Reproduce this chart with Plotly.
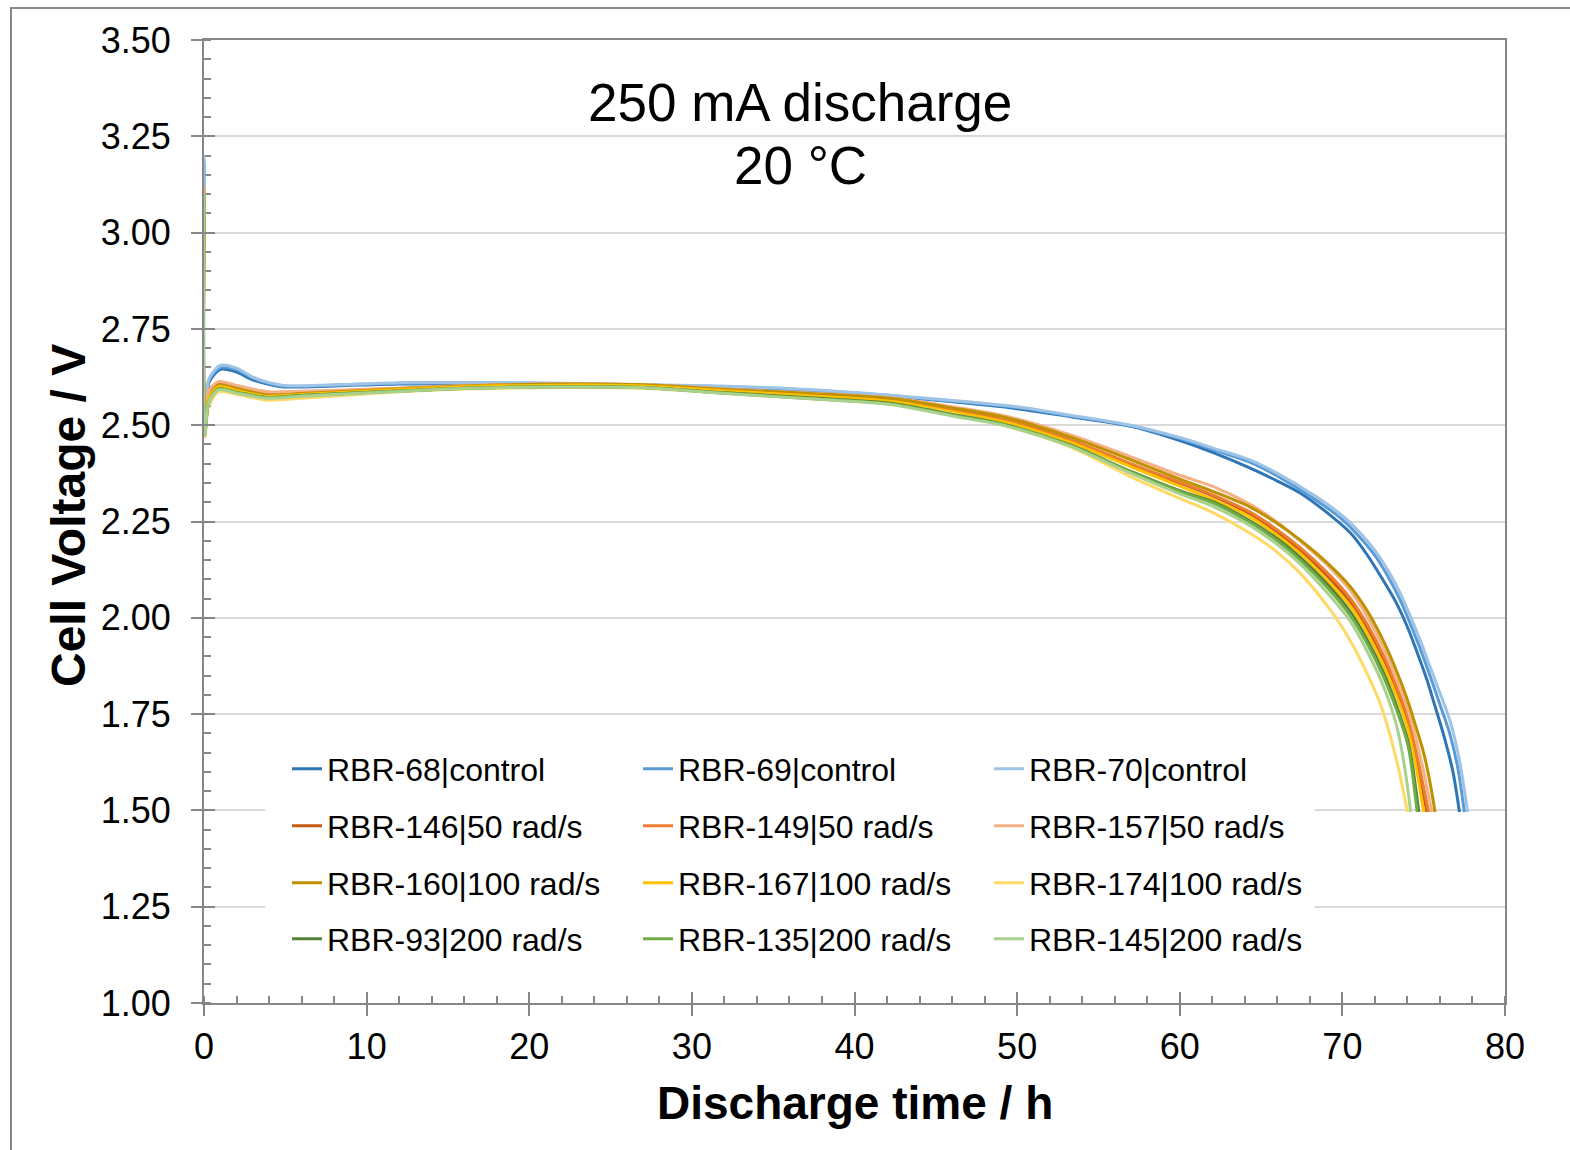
import plotly.graph_objects as go

# ---------------- data ----------------
series_names = [
    "RBR-68|control", "RBR-69|control", "RBR-70|control",
    "RBR-146|50 rad/s", "RBR-149|50 rad/s", "RBR-157|50 rad/s",
    "RBR-160|100 rad/s", "RBR-167|100 rad/s", "RBR-174|100 rad/s",
    "RBR-93|200 rad/s", "RBR-135|200 rad/s", "RBR-145|200 rad/s",
]
series_colors = [
    "#2e75b6", "#5b9bd5", "#9dc3e6",
    "#c55a11", "#ed7d31", "#f4b183",
    "#bf9000", "#ffc000", "#ffd966",
    "#548235", "#70ad47", "#a9d18e",
]

# discharge time (h) and cell voltage (V)
t_rbr68 = [0, 0.05, 0.3, 1.0, 2.0, 3.0, 4.8, 8, 12, 20, 30, 35, 41.6, 45, 50, 53.3, 57, 60, 62.1, 64.3,
           66, 67.4, 69, 70.5, 71.5, 72.5, 73.3, 74.0, 74.6, 75.2, 75.7, 76.2, 76.8, 77.2]
v_rbr68 = [3.18, 2.50, 2.61, 2.645, 2.638, 2.618, 2.600, 2.602, 2.607, 2.607, 2.600, 2.595, 2.578, 2.565, 2.543,
           2.522, 2.497, 2.460, 2.428, 2.389, 2.355, 2.324, 2.275, 2.220, 2.165, 2.098, 2.040, 1.976, 1.910,
           1.839, 1.770, 1.700, 1.600, 1.496]

t_rbr69 = [0, 0.05, 0.3, 1.0, 2.0, 3.0, 4.8, 8, 12, 20, 30, 35, 41.6, 45, 50, 53.3, 57, 60, 62.1, 64.3,
           66, 68.4, 70, 71.1, 72.0, 72.9, 73.6, 74.2, 74.8, 75.4, 76.0, 76.6, 77.1, 77.5]
v_rbr69 = [3.19, 2.50, 2.615, 2.650, 2.644, 2.622, 2.602, 2.604, 2.609, 2.609, 2.602, 2.596, 2.579, 2.566, 2.546,
           2.524, 2.498, 2.465, 2.436, 2.404, 2.368, 2.305, 2.255, 2.208, 2.162, 2.100, 2.042, 1.982, 1.918,
           1.848, 1.775, 1.700, 1.610, 1.496]

t_rbr70 = [0, 0.05, 0.3, 1.0, 2.0, 3.0, 4.8, 8, 12, 20, 30, 35, 41.6, 45, 50, 53.3, 57, 60, 62.1, 64.3,
           66, 68.4, 70, 71.1, 72.0, 72.9, 73.6, 74.2, 74.8, 75.4, 76.0, 76.6, 77.2, 77.7]
v_rbr70 = [3.20, 2.50, 2.62, 2.655, 2.648, 2.625, 2.604, 2.605, 2.610, 2.610, 2.603, 2.597, 2.580, 2.568, 2.548,
           2.526, 2.500, 2.468, 2.440, 2.410, 2.375, 2.314, 2.265, 2.220, 2.175, 2.116, 2.060, 2.002, 1.940,
           1.872, 1.805, 1.735, 1.630, 1.496]

# common time grid for the treated cells (before each series' own tail)
t_grid = [0, 0.05, 0.3, 0.9, 2, 3.9, 6, 11.7, 16, 21.9, 27, 32.1, 37, 42.2, 46, 49.4, 53.3, 57, 60, 62.1,
          64.3, 66, 67.4, 69, 70.5, 71.5, 72.5, 73.3, 74.0]

t_tail_rbr146 = [74.6, 75.2]
v_rbr146 = [3.11, 2.49, 2.58, 2.608, 2.598, 2.582, 2.585, 2.594, 2.601, 2.605, 2.603, 2.591, 2.580, 2.565, 2.540,
            2.512, 2.460, 2.398, 2.350, 2.315, 2.270, 2.222, 2.175, 2.112, 2.040, 1.975, 1.895, 1.815, 1.735,
            1.625, 1.496]

t_tail_rbr149 = [74.6, 75.3]
v_rbr149 = [3.11, 2.49, 2.58, 2.610, 2.600, 2.584, 2.586, 2.595, 2.602, 2.606, 2.604, 2.592, 2.581, 2.567, 2.541,
            2.514, 2.462, 2.400, 2.352, 2.318, 2.275, 2.228, 2.182, 2.120, 2.050, 1.985, 1.905, 1.825, 1.745,
            1.640, 1.496]

t_tail_rbr157 = [74.5, 75.0, 75.5]
v_rbr157 = [3.12, 2.49, 2.59, 2.613, 2.603, 2.587, 2.588, 2.596, 2.603, 2.607, 2.605, 2.594, 2.584, 2.571, 2.548,
            2.523, 2.475, 2.418, 2.370, 2.340, 2.295, 2.248, 2.200, 2.140, 2.070, 2.005, 1.925, 1.845, 1.765,
            1.690, 1.600, 1.496]

t_tail_rbr160 = [74.5, 75.0, 75.4, 75.7]
v_rbr160 = [3.10, 2.48, 2.57, 2.604, 2.595, 2.578, 2.582, 2.594, 2.602, 2.607, 2.605, 2.593, 2.583, 2.570, 2.545,
            2.519, 2.469, 2.410, 2.360, 2.327, 2.288, 2.245, 2.202, 2.145, 2.080, 2.020, 1.942, 1.865, 1.787,
            1.720, 1.649, 1.570, 1.496]

t_tail_rbr167 = [74.5, 75.0]
v_rbr167 = [3.10, 2.48, 2.57, 2.600, 2.590, 2.575, 2.580, 2.592, 2.600, 2.604, 2.602, 2.589, 2.577, 2.562, 2.535,
            2.507, 2.455, 2.392, 2.342, 2.306, 2.262, 2.214, 2.167, 2.100, 2.030, 1.962, 1.880, 1.800, 1.715,
            1.620, 1.496]

t_rbr174 = [0, 0.05, 0.3, 0.9, 2, 3.9, 6, 11.7, 16, 21.9, 27, 32.1, 37, 42.2, 46, 49.4, 53.3, 57, 60, 62.1,
            64.3, 66, 67.4, 69.4, 70.5, 71.5, 72.3, 72.9, 73.5, 74.0]
v_rbr174 = [3.10, 2.47, 2.55, 2.587, 2.580, 2.565, 2.570, 2.586, 2.594, 2.598, 2.596, 2.583, 2.570, 2.555, 2.530,
            2.497, 2.443, 2.366, 2.310, 2.272, 2.220, 2.170, 2.116, 2.012, 1.940, 1.857, 1.780, 1.700, 1.600,
            1.496]

t_tail_rbr93 = [74.3, 74.7]
v_rbr93 = [3.10, 2.475, 2.56, 2.594, 2.585, 2.572, 2.577, 2.588, 2.596, 2.600, 2.598, 2.584, 2.572, 2.557, 2.528,
           2.500, 2.448, 2.380, 2.330, 2.300, 2.252, 2.205, 2.157, 2.090, 2.015, 1.945, 1.860, 1.775, 1.685,
           1.620, 1.496]

t_tail_rbr135 = [74.2, 74.6]
v_rbr135 = [3.10, 2.475, 2.56, 2.594, 2.585, 2.572, 2.577, 2.588, 2.596, 2.600, 2.598, 2.583, 2.570, 2.555, 2.526,
            2.499, 2.447, 2.378, 2.328, 2.297, 2.248, 2.200, 2.150, 2.082, 2.005, 1.935, 1.850, 1.765, 1.675,
            1.630, 1.496]

t_rbr145 = [0, 0.05, 0.3, 0.9, 2, 3.9, 6, 11.7, 16, 21.9, 27, 32.1, 37, 42.2, 46, 49.4, 53.3, 57, 60, 62.1,
            64.3, 66, 67.4, 69, 70.5, 71.5, 72.5, 73.3, 73.8, 74.2]
v_rbr145 = [3.10, 2.475, 2.56, 2.592, 2.583, 2.570, 2.575, 2.587, 2.595, 2.599, 2.597, 2.582, 2.569, 2.554, 2.524,
            2.497, 2.445, 2.375, 2.322, 2.288, 2.240, 2.190, 2.140, 2.068, 1.990, 1.915, 1.825, 1.725, 1.620,
            1.496]

series_t = [
    t_rbr68, t_rbr69, t_rbr70,
    t_grid + t_tail_rbr146, t_grid + t_tail_rbr149, t_grid + t_tail_rbr157,
    t_grid + t_tail_rbr160, t_grid + t_tail_rbr167, t_rbr174,
    t_grid + t_tail_rbr93, t_grid + t_tail_rbr135, t_rbr145,
]
series_v = [
    v_rbr68, v_rbr69, v_rbr70,
    v_rbr146, v_rbr149, v_rbr157,
    v_rbr160, v_rbr167, v_rbr174,
    v_rbr93, v_rbr135, v_rbr145,
]

x_ticks = [0, 10, 20, 30, 40, 50, 60, 70, 80]
y_ticks = [1.00, 1.25, 1.50, 1.75, 2.00, 2.25, 2.50, 2.75, 3.00, 3.25, 3.50]

# ---------------- figure ----------------
FONT = "Liberation Sans, Arial, sans-serif"
AX = "#868686"
W, H = 1570, 1150
ML, MR, MT, MB = 204, 65, 40, 147
PW, PH = W - ML - MR, H - MT - MB


def px_x(p):
    return (p - ML) / PW


def px_y(p):
    return 1 - (p - MT) / PH


legend_ids = ["legend", "legend2", "legend3", "legend4"]
row_py = [769, 826, 883, 939]

fig = go.Figure()
for i, name in enumerate(series_names):
    fig.add_trace(go.Scatter(
        x=series_t[i], y=series_v[i], mode="lines", name=name,
        line=dict(color=series_colors[i], width=3, shape="spline", smoothing=0.8),
        legend=legend_ids[i // 3],
    ))

# helper trace for the inner half of major ticks
fig.add_trace(go.Scatter(x=[None], y=[None], xaxis="x2", yaxis="y2", showlegend=False, hoverinfo="skip"))

legend_common = dict(
    orientation="h", xanchor="left", yanchor="middle",
    bgcolor="rgba(0,0,0,0)", font=dict(size=32, family=FONT, color="black"),
    entrywidth=306, entrywidthmode="pixels", traceorder="normal",
)
layout_legends = {}
for k, lid in enumerate(legend_ids):
    layout_legends[lid] = dict(legend_common, x=px_x(287), y=px_y(row_py[k]))

fig.update_layout(
    width=W, height=H,
    margin=dict(l=ML, r=MR, t=MT, b=MB, pad=0),
    paper_bgcolor="white", plot_bgcolor="white",
    font=dict(family=FONT, color="black"),
    showlegend=True,
    xaxis=dict(
        range=[0, 80], tickvals=x_ticks, ticktext=[str(v) for v in x_ticks],
        showgrid=False, zeroline=False,
        showline=True, linecolor=AX, linewidth=2, mirror=True,
        ticks="outside", ticklen=11, tickwidth=2, tickcolor=AX,
        minor=dict(dtick=2, tick0=0, ticks="inside", ticklen=7, tickwidth=2, tickcolor=AX, showgrid=False),
        tickfont=dict(size=36, family=FONT, color="black"),
        layer="below traces",
    ),
    yaxis=dict(
        range=[1, 3.5], tickvals=y_ticks, ticktext=[f"{v:.2f}" for v in y_ticks],
        showgrid=True, gridcolor="#d9d9d9", gridwidth=2, zeroline=False,
        showline=True, linecolor=AX, linewidth=2, mirror=True,
        ticks="outside", ticklen=11, tickwidth=2, tickcolor=AX,
        minor=dict(dtick=0.05, tick0=1, ticks="inside", ticklen=7, tickwidth=2, tickcolor=AX, showgrid=False),
        tickfont=dict(size=36, family=FONT, color="black"),
        ticklabelstandoff=13,
        layer="below traces",
    ),
    xaxis2=dict(
        overlaying="x", matches="x", anchor="y2", range=[0, 80], tickvals=x_ticks,
        ticks="inside", ticklen=11, tickwidth=2, tickcolor=AX, showticklabels=False,
        showgrid=False, showline=False, zeroline=False,
    ),
    yaxis2=dict(
        overlaying="y", matches="y", anchor="x2", range=[1, 3.5], tickvals=y_ticks,
        ticks="inside", ticklen=11, tickwidth=2, tickcolor=AX, showticklabels=False,
        showgrid=False, showline=False, zeroline=False,
    ),
    **layout_legends,
)

# white legend backdrop (covers gridlines under legend)
fig.add_shape(type="rect", xref="x", yref="y", x0=3.75, x1=68.3, y0=1.10, y1=1.67,
              fillcolor="white", line=dict(width=0), layer="between")

# outer chart frame
fig.add_shape(type="rect", xref="paper", yref="paper",
              x0=px_x(11), x1=px_x(1640), y0=px_y(1220), y1=px_y(8),
              line=dict(color=AX, width=2), fillcolor="rgba(0,0,0,0)", layer="below")

# titles
fig.add_annotation(text="250 mA discharge", xref="paper", yref="paper", x=px_x(800), y=px_y(102),
                   xanchor="center", yanchor="middle", showarrow=False,
                   font=dict(size=53, family=FONT, color="black"))
fig.add_annotation(text="20 °C", xref="paper", yref="paper", x=px_x(800), y=px_y(165),
                   xanchor="center", yanchor="middle", showarrow=False,
                   font=dict(size=53, family=FONT, color="black"))
fig.add_annotation(text="<b>Discharge time / h</b>", xref="paper", yref="paper", x=0.5, y=px_y(1103),
                   xanchor="center", yanchor="middle", showarrow=False,
                   font=dict(size=46, family=FONT, color="black"))
fig.add_annotation(text="<b>Cell Voltage / V</b>", xref="paper", yref="paper", x=px_x(68), y=px_y(516),
                   xanchor="center", yanchor="middle", showarrow=False, textangle=-90,
                   font=dict(size=48, family=FONT, color="black"))

fig.write_html("out.html")
